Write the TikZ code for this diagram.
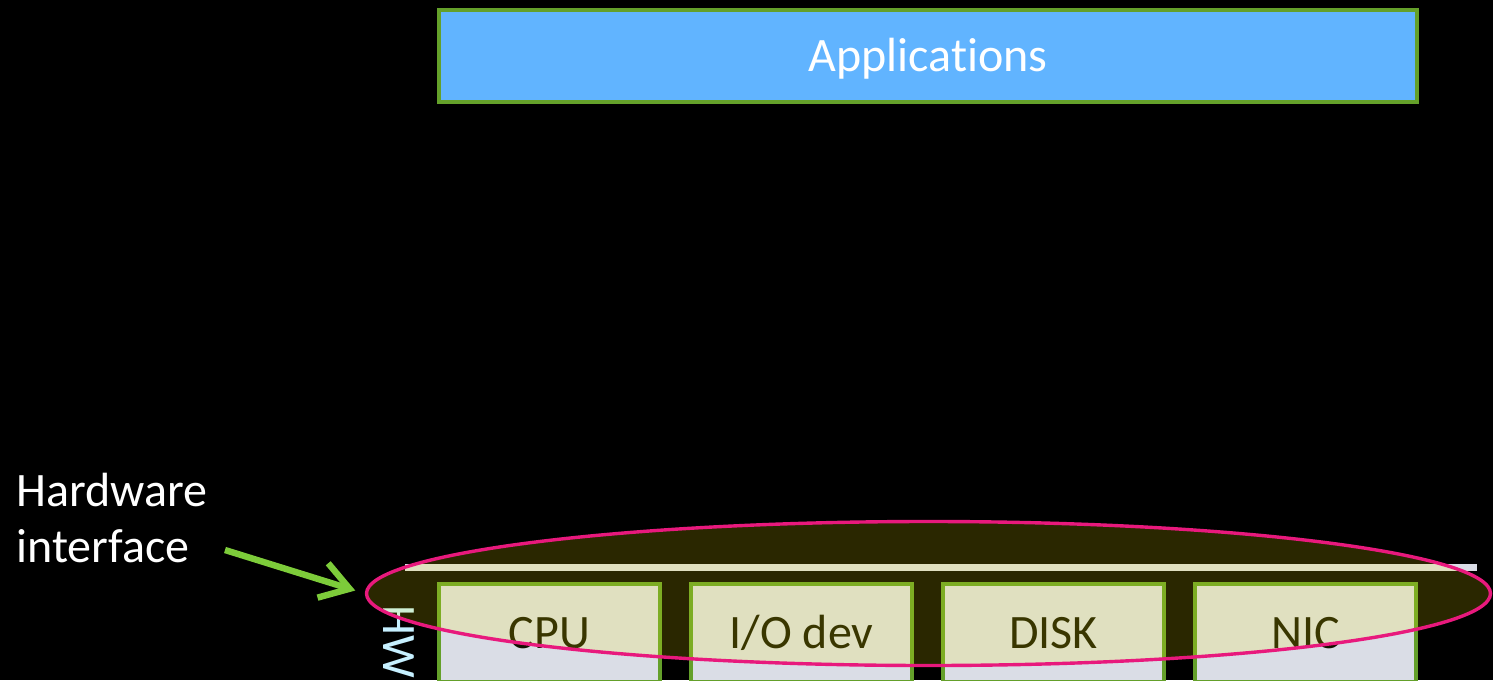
\documentclass[tikz,border=0pt]{standalone}
\usepackage{fontspec}
\setmainfont{Carlito}[Ligatures=NoCommon]
\usepackage{tikz}
\usetikzlibrary{arrows.meta,positioning,shapes.geometric}
\definecolor{appblue}{HTML}{61B4FF}
\definecolor{unitgreen}{HTML}{64A02A}
\definecolor{unitgrey}{HTML}{DADDE6}
\definecolor{unittext}{HTML}{121200}
\definecolor{ringpink}{HTML}{E8197D}
\definecolor{pointgreen}{HTML}{7DCC3A}
\definecolor{hwcyan}{HTML}{C6F0FF}

\begin{document}
\begin{tikzpicture}[x=0.5pt,y=-0.5pt,
    bigfont/.style={font=\fontsize{24}{28}\selectfont},
    unit/.style={draw=unitgreen,line width=2pt,fill=unitgrey,minimum width=110.5pt,
                 minimum height=49pt,inner sep=0pt,bigfont,text=unittext,
                 text height=15.5pt,text depth=0pt},
    pointer/.style={draw=pointgreen,line width=3.2pt,-{Straight Barb[length=14pt,width=18pt]}}]
  % Background
  \fill[black] (0,0) rectangle (1493,680);
  \clip (0,0) rectangle (1493,680);
  % Application layer
  \node[draw=unitgreen,line width=2pt,fill=appblue,minimum width=489pt,minimum height=46pt,
        inner sep=0pt,bigfont,text=white,text height=15.5pt,text depth=0pt] (apps) at (928,56) {Applications};
  % Hardware units
  \node[unit] (cpu) at (549.5,633) {CPU};
  \node[unit,right=13.5pt of cpu] (iodev) {I/O dev};
  \node[unit,right=13.5pt of iodev] (disk) {DISK};
  \node[unit,right=13.5pt of disk] (nic) {NIC};
  % Bus bar and side label
  \node[fill=unitgrey,minimum width=536pt,minimum height=3.5pt,inner sep=0pt] (hwbar) at (941,567.5) {};
  \node[rotate=-90,bigfont,text=hwcyan,inner sep=0pt,text height=15.5pt,text depth=0pt] (hwlbl) at (399,641.5) {HW};
  % Hardware interface ring
  \node[ellipse,draw=ringpink,line width=1.7pt,fill=yellow,fill opacity=0.165,
        minimum width=562pt,minimum height=72pt,inner sep=0pt] (hwring) at (928.5,593.5) {};
  % Callout
  \node[anchor=north west,align=left,bigfont,text=white,inner sep=0pt] (hwint) at (16,473) {Hardware\\interface};
  \coordinate (armtail) at (225,550);
  \draw[pointer,shorten >=5pt] (armtail) -- (hwring.west);
\end{tikzpicture}
\end{document}
